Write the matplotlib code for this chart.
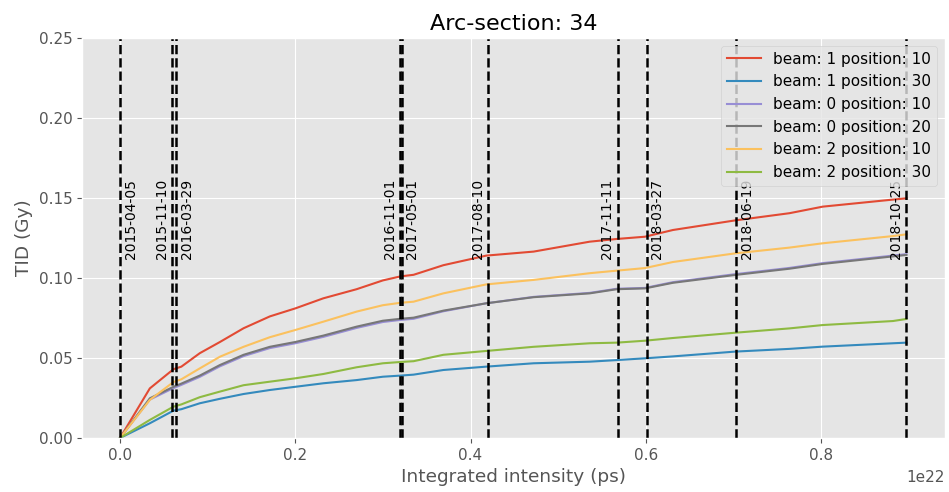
import numpy as np
import matplotlib
matplotlib.use("Agg")
import matplotlib.pyplot as plt

plt.style.use("ggplot")

# integrated intensity in units of 1e22 ps
x = [0, 0.034, 0.061, 0.07, 0.091, 0.114, 0.141, 0.171, 0.2, 0.232, 0.27, 0.30,
     0.32, 0.335, 0.369, 0.418, 0.472, 0.536, 0.567, 0.599, 0.631, 0.702, 0.764,
     0.802, 0.882, 0.8975]

b1_p10 = [0, 0.031, 0.043, 0.0446, 0.053, 0.060, 0.0686, 0.076, 0.081, 0.0873, 0.093,
          0.0985, 0.101, 0.102, 0.108, 0.114, 0.1165, 0.1227, 0.1244, 0.1258, 0.130,
          0.136, 0.1405, 0.1446, 0.149, 0.1498]
b1_p30 = [0, 0.0092, 0.0171, 0.018, 0.0217, 0.0245, 0.0275, 0.030, 0.032, 0.0342,
          0.0362, 0.0383, 0.039, 0.0396, 0.0425, 0.0446, 0.0467, 0.0477, 0.0487,
          0.0498, 0.051, 0.054, 0.0557, 0.0571, 0.0592, 0.0596]
b0_p10 = [0, 0.024, 0.0312, 0.0332, 0.0382, 0.0448, 0.0512, 0.0562, 0.0592, 0.0632,
          0.0688, 0.0725, 0.0738, 0.0745, 0.0792, 0.0842, 0.0882, 0.0907, 0.0933,
          0.0938, 0.0974, 0.1024, 0.1063, 0.1093, 0.1140, 0.1149]
b0_p20 = [0, 0.0248, 0.032, 0.034, 0.039, 0.0456, 0.052, 0.057, 0.060, 0.064, 0.0696,
          0.0733, 0.0745, 0.0752, 0.0796, 0.0842, 0.088, 0.0904, 0.093, 0.0935, 0.097,
          0.1019, 0.1058, 0.1088, 0.1135, 0.1144]
b2_p10 = [0, 0.0238, 0.035, 0.0367, 0.0435, 0.0508, 0.057, 0.063, 0.0675, 0.0727,
          0.079, 0.083, 0.0845, 0.0852, 0.0904, 0.096, 0.0988, 0.103, 0.1046, 0.1062,
          0.110, 0.1154, 0.119, 0.1217, 0.1262, 0.1273]
b2_p30 = [0, 0.0113, 0.0196, 0.021, 0.0255, 0.029, 0.033, 0.0352, 0.0373, 0.040,
          0.0442, 0.0467, 0.0475, 0.048, 0.052, 0.0544, 0.057, 0.0592, 0.0596, 0.0608,
          0.0625, 0.0658, 0.0685, 0.0706, 0.0731, 0.0744]

series = [
    ("beam: 1 position: 10", b1_p10),
    ("beam: 1 position: 30", b1_p30),
    ("beam: 0 position: 10", b0_p10),
    ("beam: 0 position: 20", b0_p20),
    ("beam: 2 position: 10", b2_p10),
    ("beam: 2 position: 30", b2_p30),
]

dates = ["2015-04-05", "2015-11-10", "2016-03-29", "2016-11-01", "2017-05-01",
         "2017-08-10", "2017-11-11", "2018-03-27", "2018-06-19", "2018-10-25"]
date_x = [0.0, 0.0595, 0.064, 0.3200, 0.3215, 0.420, 0.568, 0.601, 0.703, 0.8975]
label_side = [1, -1, 1, -1, 1, -1, -1, 1, 1, -1]

xticks = [0.0, 0.2, 0.4, 0.6, 0.8]
xtick_labels = ["0.0", "0.2", "0.4", "0.6", "0.8"]

scale = 1e22

fig = plt.figure(figsize=(9.49, 4.92), dpi=100)
ax = fig.add_axes([82 / 949, 1 - 438 / 492, (945 - 82) / 949, 400 / 492])

for lab, ys in series:
    ax.plot(np.array(x) * scale, ys, label=lab, lw=1.5)

for d, dx, side in zip(dates, date_x, label_side):
    ax.axvline(dx * scale, color="black", linestyle="--", lw=1.8)
    ax.text((dx + side * 0.012) * scale, 0.112, d, rotation=90,
            ha="center", va="bottom", fontsize=10, color="black")

ax.set_ylim(0, 0.25)
ax.set_xlim(-0.0434 * scale, 0.9415 * scale)
ax.set_xticks([t * scale for t in xticks])
ax.set_xticklabels(xtick_labels)
ax.tick_params(axis="both", labelsize=11)
ax.text(1.0, -0.0975, "1e22", transform=ax.transAxes, ha="right", va="center",
        fontsize=11, color="#555555")
ax.set_title("Arc-section: 34", fontsize=16)
ax.set_xlabel("Integrated intensity (ps)", fontsize=13.3)
ax.set_ylabel("TID (Gy)", fontsize=13.3)
ax.legend(loc="upper right", fontsize=11, handlelength=2.2)

fig.savefig("out.png", dpi=100)
